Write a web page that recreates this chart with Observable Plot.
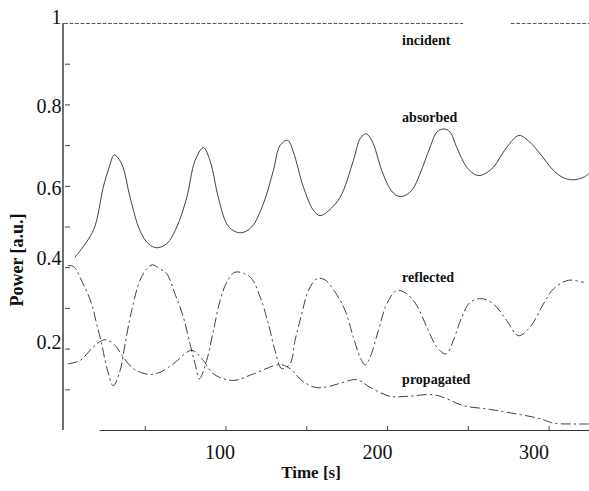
<!DOCTYPE html>
<html>
<head>
<meta charset="utf-8">
<script src="https://cdn.jsdelivr.net/npm/d3@7"></script>
<script src="https://cdn.jsdelivr.net/npm/@observablehq/plot@0.6"></script>
<style>
  html, body { margin: 0; padding: 0; background: #fff; }
</style>
</head>
<body>
<div id="chart"></div>
<script>
// Absorbed power (solid)
const tAbs = [6.5,17.8,24,27.7,30.8,35.4,40.6,46.7,51.9,57.1,63.3,69.5,75.7,80.8,86,90.1,95.2,100.4,104.5,109.7,115.9,123.1,129.3,133.4,138.2,141.7,147.9,154.1,158.2,162.3,170.6,178.8,183,186.5,190.2,196.4,201.5,205.7,209.8,215,220.1,226.3,230.5,235,238.7,242.8,249,255.2,259.3,265.5,273.8,281.4,288.2,294.4,302.7,308.9,315,321.2,325];
const vAbs = [0.426,0.491,0.598,0.647,0.677,0.655,0.573,0.491,0.459,0.449,0.459,0.5,0.573,0.663,0.695,0.663,0.573,0.508,0.491,0.486,0.5,0.557,0.639,0.7,0.713,0.684,0.598,0.541,0.528,0.536,0.573,0.663,0.717,0.729,0.713,0.639,0.594,0.577,0.576,0.59,0.631,0.696,0.733,0.741,0.733,0.696,0.647,0.627,0.629,0.647,0.696,0.725,0.708,0.68,0.639,0.621,0.616,0.622,0.632];

// Reflected power (dash-dot)
const tRef = [2.4,5.5,11.6,16.8,19.9,23,26.1,30.2,34.4,37.5,41.6,46.7,50.9,54.4,59.1,63.3,68.4,73.6,77.7,80.8,83.5,88,92.2,96.3,100.4,105.6,114.9,121.1,126.2,130.3,134.5,139.6,142.7,146.9,151,156.2,161.3,167.5,173.7,178.8,183,186.1,189.2,194.3,199.5,205.7,211.9,218.1,224.3,230.5,236.2,240.7,245.9,251.1,258.3,265.5,273.8,281,288.2,296.5,302.7,311.9,321.2];
const vRef = [0.405,0.403,0.36,0.311,0.262,0.213,0.156,0.11,0.147,0.213,0.295,0.369,0.397,0.407,0.397,0.385,0.336,0.278,0.213,0.164,0.127,0.172,0.246,0.319,0.364,0.389,0.377,0.328,0.262,0.197,0.152,0.164,0.221,0.287,0.344,0.373,0.37,0.34,0.295,0.229,0.18,0.161,0.18,0.246,0.311,0.344,0.336,0.307,0.254,0.205,0.188,0.221,0.278,0.315,0.324,0.311,0.27,0.233,0.254,0.311,0.348,0.369,0.364];

// Propagated power (dash-dot)
const tProp = [2.4,9.6,17.8,25.1,31.3,36.4,42.6,51.9,59.1,67.4,78.8,85.9,92.2,104.5,116.9,133.4,139.6,146.9,155.1,163.3,170.6,180.9,189.2,201.5,211.9,228.4,236.7,246.9,261.4,273.8,294.4,302.7,315,324.3];
const vProp = [0.164,0.172,0.205,0.223,0.209,0.18,0.152,0.138,0.143,0.164,0.197,0.172,0.139,0.123,0.139,0.162,0.152,0.123,0.106,0.108,0.116,0.125,0.106,0.084,0.084,0.088,0.078,0.061,0.053,0.045,0.029,0.018,0.016,0.016];

// Incident power (dashed, with a gap)
const tInc = [0, 246.6, 276.5, 325];
const vInc = [1, 1, 1, 1];
const incSeg = ["a", "a", "b", "b"];

// Curve labels
const labelNames = ["incident", "absorbed", "reflected", "propagated"];
const labelT = [209, 209, 209, 209];
const labelV = [0.958, 0.77, 0.375, 0.125];

// Ticks
const xTickLabels = [100, 200, 300];
const xTickMarks = [50, 100, 150, 200, 250, 300];
const yTickLabels = [0.2, 0.4, 0.6, 0.8, 1];
const yTickMarks = [0.1, 0.2, 0.3, 0.4, 0.5, 0.6, 0.7, 0.8, 0.9];

const xDomain = [0, 325];
const yDomain = [0, 1];
const xAxisStart = 22;

const toRows = (t, v) => t.map((d, i) => ({t: d, v: v[i]}));
const abs = toRows(tAbs, vAbs);
const ref = toRows(tRef, vRef);
const prop = toRows(tProp, vProp);
const inc = tInc.map((d, i) => ({t: d, v: vInc[i], s: incSeg[i]}));
const labels = labelNames.map((n, i) => ({n, t: labelT[i], v: labelV[i]}));

const serif = "'Liberation Serif', 'Times New Roman', serif";
const lineColor = "#2a2a2a";
const textColor = "#111";

// small label nudges seen in the original scan (pixels)
const xLabelNudge = [-6, -10, -15];
const yLabelNudge = [-7, -9, 2, 2, -6];

const yLabelMarks = yTickLabels.map((v, i) =>
  Plot.axisY([v], {anchor: "left", tickSize: 0, tickPadding: 3, fontSize: 20, fontFamily: serif, fill: textColor,
    dy: yLabelNudge[i], tickFormat: d => d === 1 ? "1" : d.toFixed(1), label: null}));
const xLabelMarks = xTickLabels.map((v, i) =>
  Plot.axisX([v], {anchor: "bottom", tickSize: 0, tickPadding: 14, fontSize: 20, fontFamily: serif, fill: textColor,
    dx: xLabelNudge[i], tickFormat: d => String(d), label: null}));

const chart = Plot.plot({
  width: 589,
  height: 491,
  marginLeft: 64,
  marginRight: 0,
  marginTop: 23,
  marginBottom: 61,
  style: {fontFamily: serif, background: "#fff", color: textColor, overflow: "visible"},
  x: {domain: xDomain, axis: null},
  y: {domain: yDomain, axis: null},
  marks: [
    // axis lines
    Plot.ruleX([0], {y1: yDomain[0], y2: yDomain[1], stroke: "#333", strokeWidth: 1.4, dx: -1.5}),
    Plot.ruleY([0], {x1: xAxisStart, x2: xDomain[1], stroke: "#333", strokeWidth: 1.2}),
    // inward ticks
    Plot.axisY(yTickMarks, {anchor: "right", frameAnchor: "left", tickSize: 5, fill: "none", stroke: "#444", label: null}),
    Plot.axisX(xTickMarks, {anchor: "top", frameAnchor: "bottom", tickSize: 5, fill: "none", stroke: "#444", label: null}),
    // tick labels
    ...yLabelMarks,
    ...xLabelMarks,
    // axis titles
    Plot.text(["Power [a.u.]"], {frameAnchor: "left", textAnchor: "middle", lineAnchor: "middle", rotate: -90, dx: -47, dy: 33,
      fontSize: 18, fontWeight: "bold", fontFamily: serif, fill: textColor}),
    Plot.text(["Time [s]"], {frameAnchor: "bottom", textAnchor: "middle", lineAnchor: "middle", dx: -16, dy: 42,
      fontSize: 17, fontWeight: "bold", fontFamily: serif, fill: textColor}),
    // curves
    Plot.line(inc, {x: "t", y: "v", z: "s", stroke: lineColor, strokeWidth: 0.8, strokeDasharray: "3,2.5"}),
    Plot.line(abs, {x: "t", y: "v", curve: "catmull-rom", stroke: lineColor, strokeWidth: 0.9}),
    Plot.line(ref, {x: "t", y: "v", curve: "catmull-rom", stroke: lineColor, strokeWidth: 0.9, strokeDasharray: "9,4,1.5,4"}),
    Plot.line(prop, {x: "t", y: "v", curve: "catmull-rom", stroke: lineColor, strokeWidth: 0.9, strokeDasharray: "9,4,1.5,4"}),
    // curve labels
    Plot.text(labels, {x: "t", y: "v", text: "n", textAnchor: "start", fontSize: 14, fontWeight: "bold", fontFamily: serif, fill: textColor})
  ]
});
document.getElementById("chart").appendChild(chart);
</script>
</body>
</html>
